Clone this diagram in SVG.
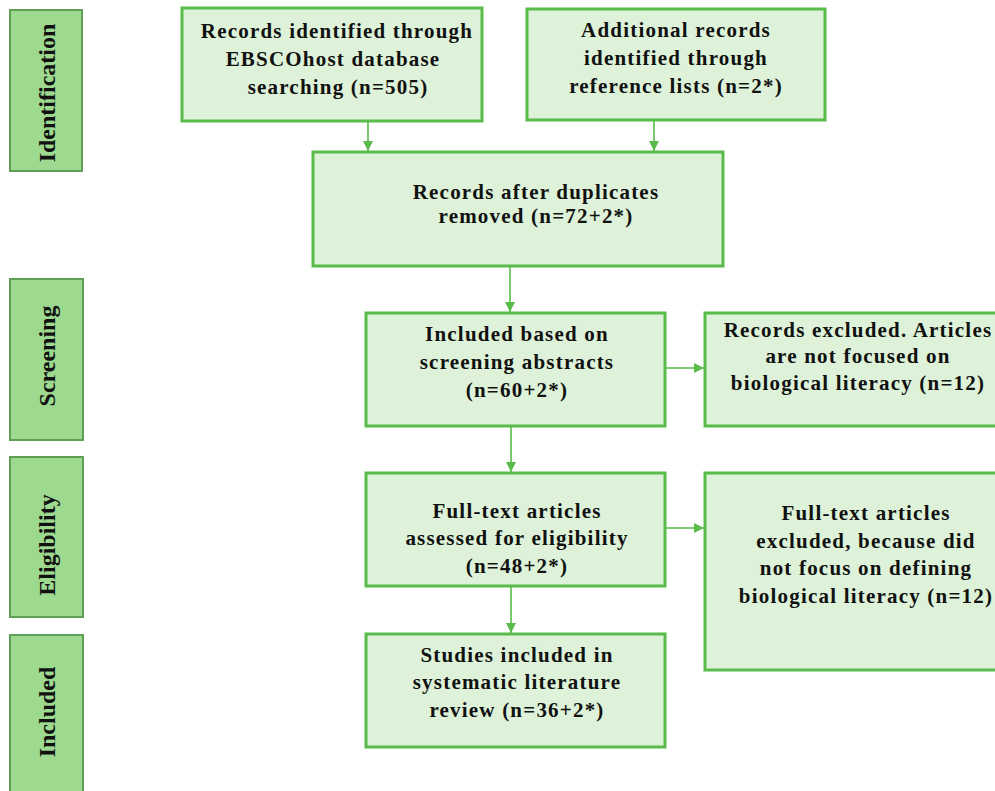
<svg xmlns="http://www.w3.org/2000/svg" width="995" height="791" viewBox="0 0 995 791">
<style>
.box{fill:#ddf2d8;stroke:#58bb4a;stroke-width:3}
.side{fill:#9dd98f;stroke:#5f9f55;stroke-width:2}
.t{font-family:"Liberation Serif","Times New Roman",serif;font-weight:bold;font-size:21px;letter-spacing:1.2px;text-anchor:middle;fill:#111}
.s{font-family:"Liberation Serif","Times New Roman",serif;font-weight:bold;font-size:24px;text-anchor:middle;fill:#111}
.c{stroke:#58bb4a;stroke-width:1.6;fill:none;marker-end:url(#ah)}
</style>
<defs>
<marker id="ah" markerWidth="10" markerHeight="10" refX="10" refY="5" orient="auto" markerUnits="userSpaceOnUse">
<path d="M0,0 L10,5 L0,10 Z" fill="#58bb4a"/>
</marker>
</defs>
<rect width="995" height="791" fill="#ffffff"/>
<g id="lbl-identification"><rect class="side" x="10" y="10" width="72" height="161"/><text class="s" transform="translate(55,93) rotate(-90)">Identification</text></g>
<g id="lbl-screening"><rect class="side" x="10" y="279" width="73" height="161"/><text class="s" transform="translate(55,356) rotate(-90)">Screening</text></g>
<g id="lbl-eligibility"><rect class="side" x="10" y="457" width="73" height="160"/><text class="s" transform="translate(55,545) rotate(-90)">Eligibility</text></g>
<g id="lbl-included"><rect class="side" x="10" y="635" width="73" height="170"/><text class="s" transform="translate(55,712) rotate(-90)">Included</text></g>

<g id="connectors">
<line class="c" x1="368" y1="121" x2="368" y2="151"/>
<line class="c" x1="654" y1="120" x2="654" y2="151"/>
<line class="c" x1="510" y1="266" x2="510" y2="312"/>
<line class="c" x1="511" y1="426" x2="511" y2="472"/>
<line class="c" x1="511" y1="586" x2="511" y2="633"/>
<line class="c" x1="653" y1="368" x2="704" y2="368"/>
<line class="c" x1="653" y1="528" x2="704" y2="528"/>
</g>

<g id="n-ebsco"><rect class="box" x="182" y="8" width="300" height="113"/>
<text class="t" x="337" y="38">Records identified through</text>
<text class="t" x="333" y="66">EBSCOhost database</text>
<text class="t" x="338" y="94">searching (n=505)</text></g>

<g id="n-additional"><rect class="box" x="527" y="9" width="298" height="111"/>
<text class="t" x="676" y="37">Additional records</text>
<text class="t" x="676" y="65">identified through</text>
<text class="t" x="676" y="93">reference lists (n=2*)</text></g>

<g id="n-duplicates"><rect class="box" x="313" y="152" width="410" height="114"/>
<text class="t" x="536" y="199">Records after duplicates</text>
<text class="t" x="536" y="223">removed (n=72+2*)</text></g>

<g id="n-screening"><rect class="box" x="366" y="313" width="299" height="113"/>
<text class="t" x="517" y="341">Included based on</text>
<text class="t" x="517" y="369">screening abstracts</text>
<text class="t" x="517" y="397">(n=60+2*)</text></g>

<g id="n-excluded1"><rect class="box" x="705" y="313" width="300" height="113"/>
<text class="t" x="858" y="337">Records excluded. Articles</text>
<text class="t" x="858" y="363">are not focused on</text>
<text class="t" x="858" y="390">biological literacy (n=12)</text></g>

<g id="n-fulltext"><rect class="box" x="366" y="473" width="299" height="113"/>
<text class="t" x="517" y="518">Full-text articles</text>
<text class="t" x="517" y="545">assessed for eligibility</text>
<text class="t" x="517" y="573">(n=48+2*)</text></g>

<g id="n-excluded2"><rect class="box" x="705" y="473" width="300" height="197"/>
<text class="t" x="866" y="520">Full-text articles</text>
<text class="t" x="866" y="548">excluded, because did</text>
<text class="t" x="866" y="575">not focus on defining</text>
<text class="t" x="866" y="603">biological literacy (n=12)</text></g>

<g id="n-included"><rect class="box" x="366" y="634" width="299" height="113"/>
<text class="t" x="517" y="662">Studies included in</text>
<text class="t" x="517" y="689">systematic literature</text>
<text class="t" x="517" y="717">review (n=36+2*)</text></g>
</svg>
